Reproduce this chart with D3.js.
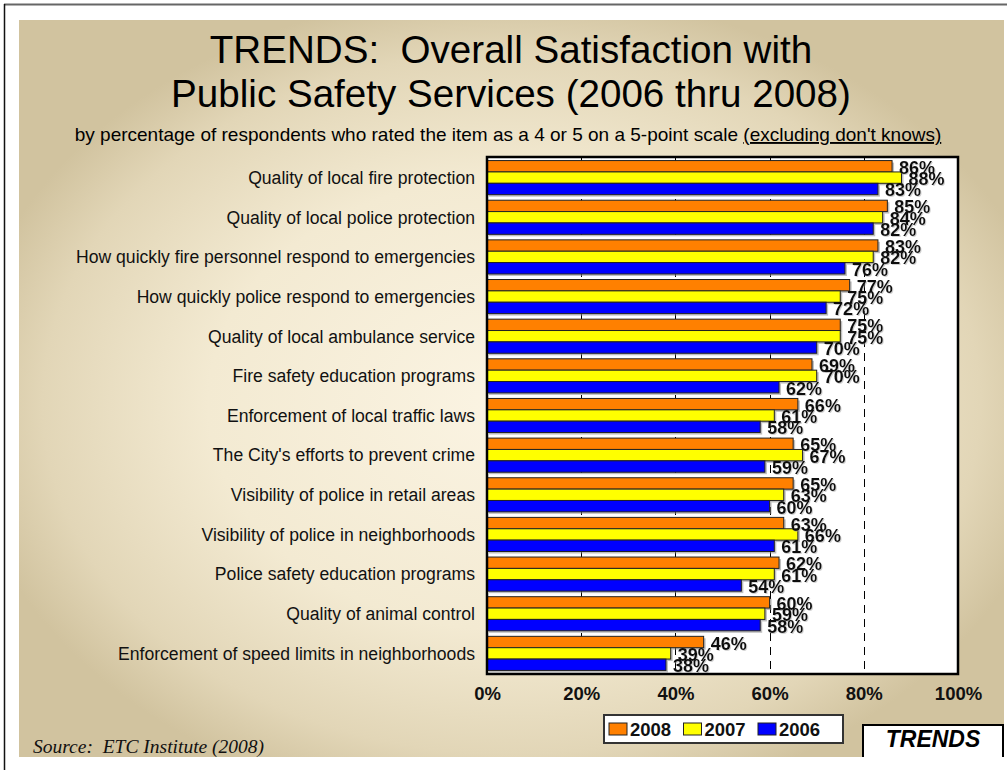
<!DOCTYPE html>
<html>
<head>
<meta charset="utf-8">
<script src="https://cdn.jsdelivr.net/npm/d3@7"></script>
<style>
  html, body { margin: 0; padding: 0; background: #fff; }
  svg { display: block; }
</style>
</head>
<body>
<script>
// Survey items, top to bottom
const categories = [
  "Quality of local fire protection",
  "Quality of local police protection",
  "How quickly fire personnel respond to emergencies",
  "How quickly police respond to emergencies",
  "Quality of local ambulance service",
  "Fire safety education programs",
  "Enforcement of local traffic laws",
  "The City's efforts to prevent crime",
  "Visibility of police in retail areas",
  "Visibility of police in neighborhoods",
  "Police safety education programs",
  "Quality of animal control",
  "Enforcement of speed limits in neighborhoods"
];
// Percent satisfied by survey year
const values2008 = [86, 85, 83, 77, 75, 69, 66, 65, 65, 63, 62, 60, 46];
const values2007 = [88, 84, 82, 75, 75, 70, 61, 67, 63, 66, 61, 59, 39];
const values2006 = [83, 82, 76, 72, 70, 62, 58, 59, 60, 61, 54, 58, 38];
const years = ["2008", "2007", "2006"];
const yearColors = ["#FF8000", "#FFFF00", "#0000FF"];
const tickValues = [0, 20, 40, 60, 80, 100];

const SANS = "'Liberation Sans', Arial, sans-serif";
const SERIF = "'Liberation Serif', 'Times New Roman', serif";

const W = 1007, H = 770;
const svg = d3.select("body").append("svg").attr("width", W).attr("height", H)
  .style("font-family", SANS);
const defs = svg.append("defs");

// Soft grey shadow behind the value labels
const shadow = defs.append("filter").attr("id", "labelShadow")
  .attr("x", "-10%").attr("y", "-20%").attr("width", "130%").attr("height", "150%");
shadow.append("feDropShadow").attr("dx", 1).attr("dy", 1).attr("stdDeviation", 0.3)
  .attr("flood-color", "#999").attr("flood-opacity", 0.45);

// Slide frame lines
svg.append("line").attr("x1", 4).attr("x2", W).attr("y1", 4.5).attr("y2", 4.5)
  .attr("stroke", "#666").attr("stroke-width", 2);
svg.append("line").attr("x1", 4.5).attr("x2", 4.5).attr("y1", 4).attr("y2", H)
  .attr("stroke", "#111").attr("stroke-width", 1.5);

// Beige backdrop, light in the middle and darker toward the edges
const grad = defs.append("radialGradient").attr("id", "bg")
  .attr("cx", "0.5").attr("cy", "0.52").attr("r", "0.56");
grad.append("stop").attr("offset", "0").attr("stop-color", "#FBF4E3");
grad.append("stop").attr("offset", "0.55").attr("stop-color", "#F3EAD2");
grad.append("stop").attr("offset", "0.85").attr("stop-color", "#E2D6B7");
grad.append("stop").attr("offset", "1").attr("stop-color", "#D1C39F");
svg.append("rect").attr("x", 19).attr("y", 20).attr("width", 985).attr("height", 737)
  .attr("fill", "url(#bg)");

// Title
const title = svg.append("text").attr("text-anchor", "middle")
  .attr("font-size", 38.6).attr("fill", "#000").style("white-space", "pre");
title.append("tspan").attr("x", 511).attr("y", 63).text("TRENDS:  Overall Satisfaction with");
title.append("tspan").attr("x", 511).attr("y", 107).text("Public Safety Services (2006 thru 2008)");

const sub = svg.append("text").attr("x", 508).attr("y", 141).attr("text-anchor", "middle")
  .attr("font-size", 19).attr("fill", "#000");
sub.append("tspan").text("by percentage of respondents who rated the item as a 4 or 5 on a 5-point scale ");
sub.append("tspan").attr("text-decoration", "underline").text("(excluding don't knows)");

// Plot geometry
const plot = { left: 487, right: 958, top: 157, bottom: 674 };
const x = d3.scaleLinear().domain([0, 100]).range([plot.left, plot.right]);
const y = d3.scaleBand().domain(categories).range([plot.top, plot.bottom])
  .paddingInner(0.14).paddingOuter(0.09);
const ySub = d3.scaleBand().domain(years).range([0, y.bandwidth()]);

const rows = categories.map((c, i) => ({
  category: c,
  bars: [
    { year: "2008", value: values2008[i], color: yearColors[0] },
    { year: "2007", value: values2007[i], color: yearColors[1] },
    { year: "2006", value: values2006[i], color: yearColors[2] }
  ]
}));

// Plot background
svg.append("rect").attr("x", plot.left).attr("y", plot.top)
  .attr("width", plot.right - plot.left).attr("height", plot.bottom - plot.top)
  .attr("fill", "#fff");

// Dashed vertical gridlines
svg.append("g").selectAll("line").data(tickValues.filter(t => t > 0 && t < 100)).join("line")
  .attr("x1", d => Math.round(x(d)) + 0.5).attr("x2", d => Math.round(x(d)) + 0.5)
  .attr("y1", plot.top).attr("y2", plot.bottom)
  .attr("stroke", "#000").attr("stroke-width", 1).attr("stroke-dasharray", "8,6");

// Bars
const groups = svg.append("g").selectAll("g").data(rows).join("g")
  .attr("transform", d => `translate(0,${y(d.category)})`);

groups.selectAll("rect.shadow").data(d => d.bars).join("rect")
  .attr("class", "shadow")
  .attr("x", x(0) + 2).attr("y", d => ySub(d.year) + 2)
  .attr("width", d => x(d.value) - x(0)).attr("height", ySub.bandwidth())
  .attr("fill", "#8a8a8a").attr("opacity", 0.55);

groups.selectAll("rect.bar").data(d => d.bars).join("rect")
  .attr("class", "bar")
  .attr("x", x(0)).attr("y", d => ySub(d.year))
  .attr("width", d => x(d.value) - x(0)).attr("height", ySub.bandwidth())
  .attr("fill", d => d.color).attr("stroke", "#222").attr("stroke-width", 1);

// Value labels
const labelFont = 18;
groups.selectAll("text.val").data(d => d.bars).join("text")
  .attr("class", "val")
  .attr("x", d => x(d.value) + 7)
  .attr("y", d => ySub(d.year) + ySub.bandwidth() / 2 + 1 + labelFont * 0.36)
  .attr("font-size", labelFont).attr("font-weight", "bold").attr("fill", "#111")
  .attr("filter", "url(#labelShadow)")
  .text(d => d.value + "%");

// Plot border
svg.append("rect").attr("x", plot.left).attr("y", plot.top)
  .attr("width", plot.right - plot.left).attr("height", plot.bottom - plot.top)
  .attr("fill", "none").attr("stroke", "#000").attr("stroke-width", 2.5);

// Category labels
svg.append("g").selectAll("text").data(categories).join("text")
  .attr("x", 475).attr("y", d => y(d) + y.bandwidth() / 2 + 17.6 * 0.36)
  .attr("text-anchor", "end").attr("font-size", 17.6).attr("fill", "#111")
  .text(d => d);

// X axis tick labels
const xAxis = d3.axisBottom(x).tickValues(tickValues).tickFormat(d => d + "%").tickSize(0).tickPadding(0);
const axisG = svg.append("g").attr("transform", `translate(0,${plot.bottom})`).call(xAxis)
  .attr("font-family", null).attr("font-size", null);
axisG.select(".domain").remove();
axisG.selectAll("text")
  .attr("y", 26).attr("dy", null)
  .attr("font-size", 18.5).attr("font-weight", "bold").attr("fill", "#111");

// Legend
const legend = svg.append("g");
legend.append("rect").attr("x", 604).attr("y", 715).attr("width", 239).attr("height", 28)
  .attr("fill", "#fff").attr("stroke", "#333").attr("stroke-width", 2);
const legendX = d3.scalePoint().domain(years).range([609, 758]);
const items = legend.selectAll("g").data(years.map((yr, i) => ({ yr, color: yearColors[i] }))).join("g")
  .attr("transform", d => `translate(${legendX(d.yr)},723)`);
items.append("rect").attr("width", 18).attr("height", 12)
  .attr("fill", d => d.color).attr("stroke", "#222").attr("stroke-width", 1);
items.append("text").attr("x", 21).attr("y", 13)
  .attr("font-size", 18.5).attr("font-weight", "bold").attr("fill", "#111")
  .text(d => d.yr);

// TRENDS tag
svg.append("path").attr("d", "M863,757 L863,725 L1003,725 L1003,757")
  .attr("fill", "#fff").attr("stroke", "#000").attr("stroke-width", 2);
svg.append("text").attr("x", 933).attr("y", 747).attr("text-anchor", "middle")
  .attr("font-size", 23).attr("font-weight", "bold").attr("font-style", "italic").attr("fill", "#000")
  .text("TRENDS");

// Source note
svg.append("text").attr("x", 33).attr("y", 753)
  .style("font-family", SERIF)
  .attr("font-size", 19.5).attr("font-style", "italic").attr("fill", "#111")
  .style("white-space", "pre")
  .text("Source:  ETC Institute (2008)");
</script>
</body>
</html>
